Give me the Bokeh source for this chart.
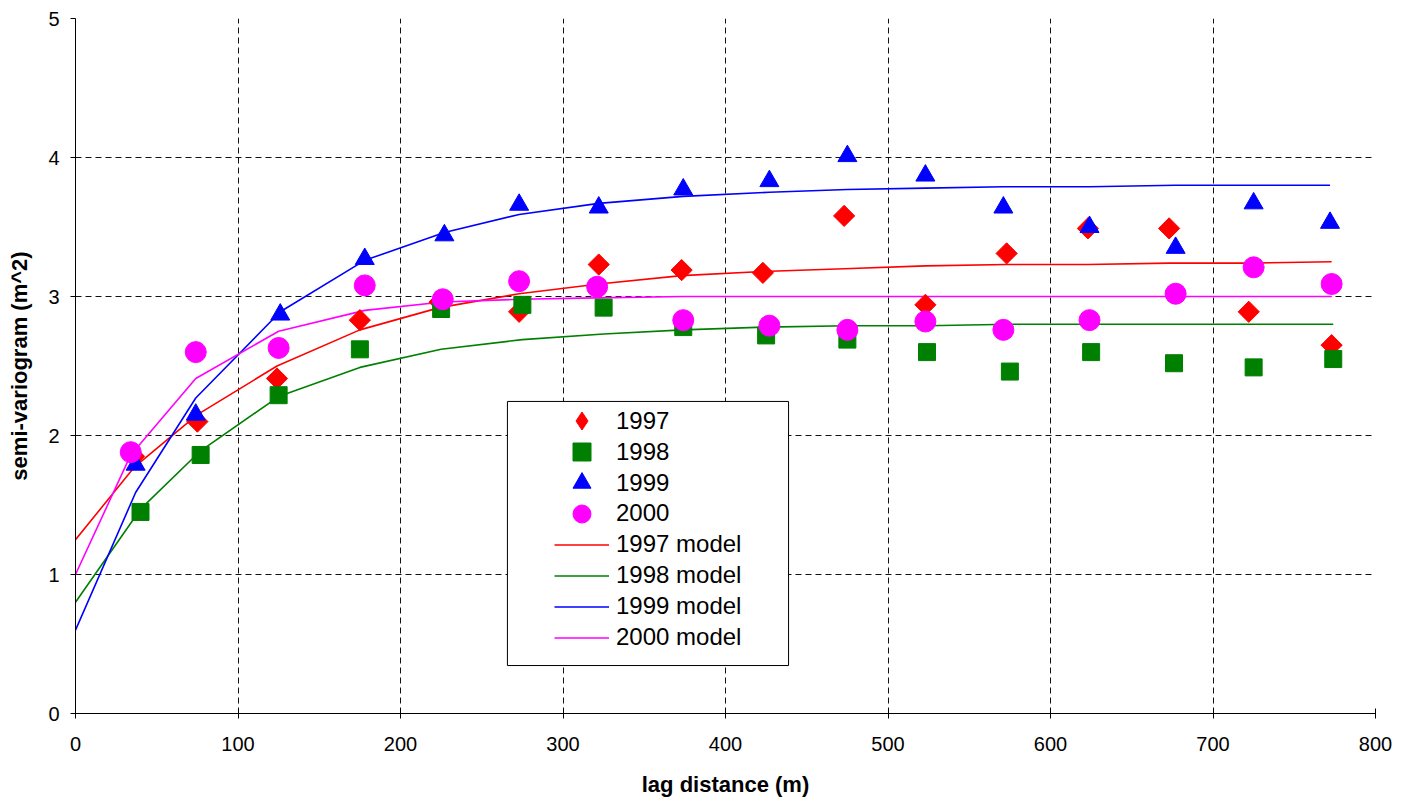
import numpy as np
from bokeh.plotting import figure
from bokeh.models import Range1d, FixedTicker, Legend, LegendItem, BoxAnnotation
from bokeh.embed import file_html
from bokeh.resources import INLINE

# ---- data ----
lag_1997 = [36, 75, 124, 175, 224, 273, 322, 373, 423, 473, 523, 573, 623, 673, 722, 773]
gam_1997 = [1.85, 2.10, 2.41, 2.83, 2.96, 2.89, 3.23, 3.19, 3.17, 3.58, 2.94, 3.31, 3.49, 3.49, 2.89, 2.65]

lag_1998 = [40, 77, 125, 175, 225, 275, 325, 374, 425, 475, 524, 575, 625, 676, 725, 774]
gam_1998 = [1.45, 1.86, 2.29, 2.62, 2.91, 2.94, 2.92, 2.78, 2.72, 2.69, 2.60, 2.46, 2.60, 2.52, 2.49, 2.55]

lag_1999 = [37, 74, 126, 178, 227, 273, 322, 374, 427, 475, 523, 571, 624, 677, 725, 772]
gam_1999 = [1.79, 2.15, 2.87, 3.27, 3.44, 3.66, 3.64, 3.77, 3.83, 4.01, 3.87, 3.64, 3.50, 3.35, 3.67, 3.53]

lag_2000 = [34, 74, 125, 178, 226, 273, 321, 374, 427, 475, 523, 571, 624, 677, 725, 773]
gam_2000 = [1.88, 2.60, 2.63, 3.08, 2.98, 3.11, 3.07, 2.83, 2.79, 2.76, 2.82, 2.76, 2.83, 3.02, 3.21, 3.09]

mlag_1997 = [0] + lag_1997
model_1997 = [1.25, 1.77, 2.15, 2.50, 2.76, 2.92, 3.02, 3.09, 3.15, 3.18, 3.20, 3.22, 3.23, 3.23, 3.24, 3.24, 3.25]
mlag_1998 = [0] + lag_1998
model_1998 = [0.80, 1.47, 1.89, 2.28, 2.49, 2.62, 2.69, 2.73, 2.76, 2.78, 2.79, 2.79, 2.80, 2.80, 2.80, 2.80, 2.80]
mlag_1999 = [0] + lag_1999
model_1999 = [0.60, 1.59, 2.27, 2.89, 3.26, 3.46, 3.59, 3.67, 3.72, 3.75, 3.77, 3.78, 3.79, 3.79, 3.80, 3.80, 3.80]
mlag_2000 = [0] + lag_2000
model_2000 = [1.00, 1.86, 2.41, 2.75, 2.90, 2.96, 2.98, 2.99, 3.00, 3.00, 3.00, 3.00, 3.00, 3.00, 3.00, 3.00, 3.00]

legend_labels = ["1997", "1998", "1999", "2000",
                 "1997 model", "1998 model", "1999 model", "2000 model"]

x_ticks = [0, 100, 200, 300, 400, 500, 600, 700, 800]
y_ticks = [0, 1, 2, 3, 4, 5]

FONT = "Liberation Sans"
RED, GREEN, BLUE, MAGENTA = "#FF0000", "#008000", "#0000FF", "#FF00FF"

p = figure(frame_width=1300, frame_height=695,
           x_range=Range1d(0, 800), y_range=Range1d(0, 5),
           output_backend="svg", toolbar_location=None,
           min_border_left=75, min_border_right=22,
           min_border_top=18, min_border_bottom=86)
p.outline_line_color = None
p.background_fill_color = "white"
p.border_fill_color = "white"

xt = FixedTicker(ticks=x_ticks)
yt = FixedTicker(ticks=y_ticks)
p.xaxis.ticker = xt
p.yaxis.ticker = yt
p.xgrid.ticker = xt
p.ygrid.ticker = yt

for g in (p.xgrid, p.ygrid):
    g.grid_line_color = "#111111"
    g.grid_line_dash = "6 4"
    g.grid_line_width = 1

p.xaxis.axis_label = "lag distance (m)"
p.yaxis.axis_label = "semi-variogram (m^2)"
for ax in (p.xaxis, p.yaxis):
    ax.axis_line_color = "black"
    ax.axis_line_width = 1
    ax.major_tick_line_color = "black"
    ax.minor_tick_line_color = None
    ax.major_label_text_font = FONT
    ax.major_label_text_font_size = "20px"
    ax.major_label_text_color = "black"
    ax.axis_label_text_font = FONT
    ax.axis_label_text_font_size = "22px"
    ax.axis_label_text_font_style = "bold"
    ax.axis_label_text_color = "black"
p.xaxis.major_tick_in = 5
p.xaxis.major_tick_out = 5
p.xaxis.major_label_standoff = 18
p.xaxis.axis_label_standoff = 18
p.yaxis.major_tick_in = 0
p.yaxis.major_tick_out = 5
p.yaxis.major_label_standoff = 11
p.yaxis.axis_label_standoff = 13

# model lines
l97 = p.line(mlag_1997, model_1997, line_color=RED, line_width=1.6)
l98 = p.line(mlag_1998, model_1998, line_color=GREEN, line_width=1.6)
l99 = p.line(mlag_1999, model_1999, line_color=BLUE, line_width=1.6)
l00 = p.line(mlag_2000, model_2000, line_color=MAGENTA, line_width=1.6)

# experimental points
s97 = p.scatter(lag_1997, gam_1997, marker="square", angle=np.pi / 4, size=15,
                fill_color=RED, line_color=RED)
s98 = p.scatter(lag_1998, gam_1998, marker="square", size=17,
                fill_color=GREEN, line_color=GREEN)
s99 = p.scatter(lag_1999, gam_1999, marker="triangle", size=19,
                fill_color=BLUE, line_color=BLUE)
s00 = p.scatter(lag_2000, gam_2000, marker="circle", size=21,
                fill_color=MAGENTA, line_color=MAGENTA)
# legend key for the diamonds (legend keys are drawn unrotated; size 0 in the plot)
k97 = p.scatter(lag_1997, gam_1997, marker="diamond", size=0,
                fill_color=RED, line_color=RED)

box = BoxAnnotation(left=265.8, right=438.8, bottom=0.345, top=2.245,
                    fill_color="white", fill_alpha=1.0,
                    line_color="black", line_alpha=1.0, line_width=1)
p.add_layout(box)

legend_renderers = [k97, s98, s99, s00, l97, l98, l99, l00]
ROW0, ROWSTEP = 269.8, 30.93   # legend row offsets (px from frame bottom)
for i, (lab, r) in enumerate(zip(legend_labels, legend_renderers)):
    lg = Legend(items=[LegendItem(label=lab, renderers=[r])],
                location=(479, ROW0 - ROWSTEP * i), orientation="vertical",
                padding=0, margin=0, spacing=0,
                glyph_width=55, glyph_height=45, label_height=45,
                label_standoff=7, label_text_font=FONT,
                label_text_font_size="24px", label_text_color="black",
                background_fill_alpha=0, border_line_alpha=0)
    p.add_layout(lg)

open("out.html", "w").write(file_html(p, INLINE))
